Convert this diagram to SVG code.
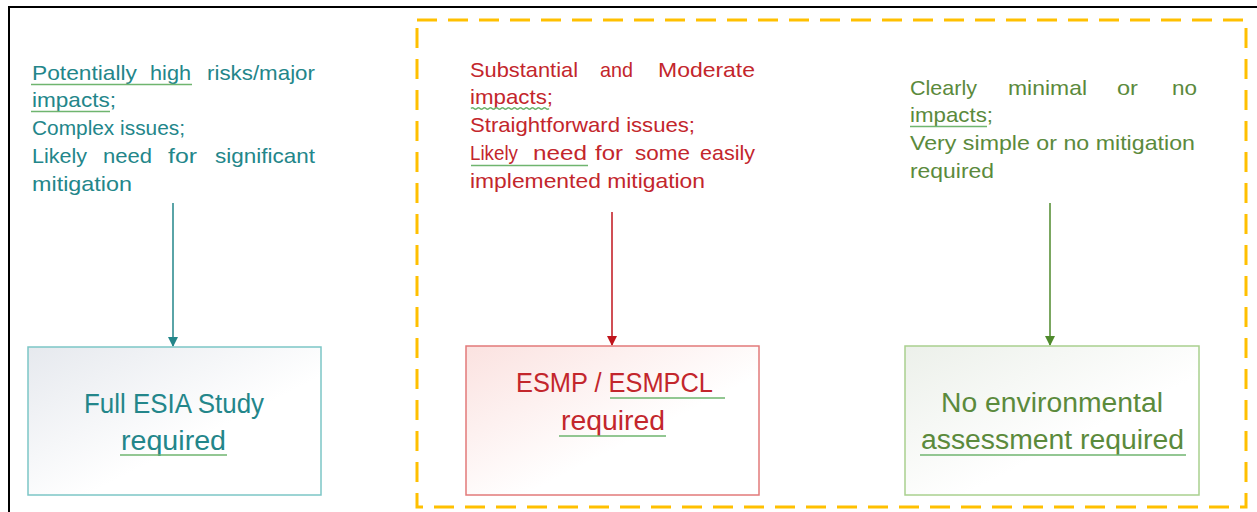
<svg xmlns="http://www.w3.org/2000/svg" width="1257" height="512" viewBox="0 0 1257 512">
<style>
text{font-family:"Liberation Sans",Arial,sans-serif}
.s{font-size:21px}
.b{font-size:27px}
.teal{fill:#23868a}
.red{fill:#c3262c}
.grn{fill:#5b8a3c}
.ul{stroke:#6fb56f;stroke-width:1.6;fill:none}
</style>
<defs>
<linearGradient id="g1" x1="0" y1="0" x2="1" y2="1"><stop offset="0" stop-color="#e6e9ee"/><stop offset="0.6" stop-color="#ffffff"/></linearGradient>
<linearGradient id="g2" x1="0" y1="0" x2="1" y2="1"><stop offset="0" stop-color="#fbe2e0"/><stop offset="0.6" stop-color="#ffffff"/></linearGradient>
<linearGradient id="g3" x1="0" y1="0" x2="1" y2="1"><stop offset="0" stop-color="#ecf0ea"/><stop offset="0.6" stop-color="#ffffff"/></linearGradient>
<marker id="aT" markerWidth="10" markerHeight="10" refX="9" refY="5" orient="auto" markerUnits="userSpaceOnUse"><path d="M0,0 L10,5 L0,10 Z" fill="#23868a"/></marker>
<marker id="aR" markerWidth="10" markerHeight="10" refX="9" refY="5" orient="auto" markerUnits="userSpaceOnUse"><path d="M0,0 L10,5 L0,10 Z" fill="#c0141c"/></marker>
<marker id="aG" markerWidth="10" markerHeight="10" refX="9" refY="5" orient="auto" markerUnits="userSpaceOnUse"><path d="M0,0 L10,5 L0,10 Z" fill="#4f8a2c"/></marker>
</defs>
<rect width="1257" height="512" fill="#ffffff"/>
<rect x="9" y="7" width="1262" height="530" fill="none" stroke="#000" stroke-width="2"/>
<rect x="417" y="20" width="829" height="487" fill="none" stroke="#ffc000" stroke-width="3" stroke-dasharray="20 11"/>

<g id="connectors">
<line x1="173" y1="203" x2="173" y2="346" stroke="#23868a" stroke-width="1.5" marker-end="url(#aT)"/>
<line x1="612" y1="212" x2="612" y2="345" stroke="#c0141c" stroke-width="1.5" marker-end="url(#aR)"/>
<line x1="1050" y1="203" x2="1050" y2="345" stroke="#4f8a2c" stroke-width="1.5" marker-end="url(#aG)"/>
</g>

<g id="criteria-high">
<text class="s teal" y="80"><tspan x="32" textLength="105" lengthAdjust="spacingAndGlyphs">Potentially</tspan><tspan x="150" textLength="41" lengthAdjust="spacingAndGlyphs">high</tspan><tspan x="207" textLength="108" lengthAdjust="spacingAndGlyphs">risks/major</tspan></text>
<text class="s teal" x="32" y="107" textLength="84" lengthAdjust="spacingAndGlyphs">impacts;</text>
<text class="s teal" x="32" y="135" textLength="153" lengthAdjust="spacingAndGlyphs">Complex issues;</text>
<text class="s teal" y="163"><tspan x="32" textLength="55" lengthAdjust="spacingAndGlyphs">Likely</tspan><tspan x="103" textLength="49" lengthAdjust="spacingAndGlyphs">need</tspan><tspan x="168" textLength="29" lengthAdjust="spacingAndGlyphs">for</tspan><tspan x="215" textLength="100" lengthAdjust="spacingAndGlyphs">significant</tspan></text>
<text class="s teal" x="32" y="191" textLength="100" lengthAdjust="spacingAndGlyphs">mitigation</text>
<path class="ul" d="M31,84.5 H192 M31,111.5 H110"/>
</g>

<g id="criteria-moderate">
<text class="s red" y="77"><tspan x="470" textLength="108" lengthAdjust="spacingAndGlyphs">Substantial</tspan><tspan x="600" textLength="33" lengthAdjust="spacingAndGlyphs">and</tspan><tspan x="658" textLength="97" lengthAdjust="spacingAndGlyphs">Moderate</tspan></text>
<text class="s red" x="470" y="104" textLength="83" lengthAdjust="spacingAndGlyphs">impacts;</text>
<text class="s red" x="470" y="132" textLength="225" lengthAdjust="spacingAndGlyphs">Straightforward issues;</text>
<text class="s red" y="160"><tspan x="470" textLength="48" lengthAdjust="spacingAndGlyphs">Likely</tspan><tspan x="533" textLength="54" lengthAdjust="spacingAndGlyphs">need</tspan><tspan x="595" textLength="28" lengthAdjust="spacingAndGlyphs">for</tspan><tspan x="635" textLength="55" lengthAdjust="spacingAndGlyphs">some</tspan><tspan x="700" textLength="55" lengthAdjust="spacingAndGlyphs">easily</tspan></text>
<text class="s red" x="470" y="188" textLength="235" lengthAdjust="spacingAndGlyphs">implemented mitigation</text>
<path class="ul" d="M471,108.5 q1.5,-1.5 3,0 t3,0 t3,0 t3,0 t3,0 t3,0 t3,0 t3,0 t3,0 t3,0 t3,0 t3,0 t3,0 t3,0 t3,0 t3,0 t3,0 t3,0 t3,0 t3,0 t3,0 t3,0 t3,0 t3,0 t3,0 t3,0 M471,165.5 H588"/>
</g>

<g id="criteria-minimal">
<text class="s grn" y="95"><tspan x="910" textLength="67" lengthAdjust="spacingAndGlyphs">Clearly</tspan><tspan x="1008" textLength="79" lengthAdjust="spacingAndGlyphs">minimal</tspan><tspan x="1117" textLength="21" lengthAdjust="spacingAndGlyphs">or</tspan><tspan x="1172" textLength="25" lengthAdjust="spacingAndGlyphs">no</tspan></text>
<text class="s grn" x="910" y="122" textLength="83" lengthAdjust="spacingAndGlyphs">impacts;</text>
<text class="s grn" x="910" y="150" textLength="285" lengthAdjust="spacingAndGlyphs">Very simple or no mitigation</text>
<text class="s grn" x="910" y="178" textLength="84" lengthAdjust="spacingAndGlyphs">required</text>
<path class="ul" d="M910,126.5 H987"/>
</g>

<g id="box-esia">
<rect x="28" y="347" width="293" height="148" fill="url(#g1)" stroke="#7cc6c6" stroke-width="1.5"/>
<text class="b teal" x="84" y="413" textLength="180" lengthAdjust="spacingAndGlyphs">Full ESIA Study</text>
<text class="b teal" x="121" y="450" textLength="105" lengthAdjust="spacingAndGlyphs">required</text>
<path class="ul" d="M120,455 H227"/>
</g>

<g id="box-esmp">
<rect x="466" y="346" width="293" height="149" fill="url(#g2)" stroke="#e27a7a" stroke-width="1.5"/>
<text class="b red" x="516" y="392" textLength="197" lengthAdjust="spacingAndGlyphs">ESMP / ESMPCL</text>
<text class="b red" x="561" y="430" textLength="104" lengthAdjust="spacingAndGlyphs">required</text>
<path class="ul" d="M610,398 H725 M559,436 H666"/>
</g>

<g id="box-none">
<rect x="905" y="346" width="294" height="149" fill="url(#g3)" stroke="#a9d08e" stroke-width="1.5"/>
<text class="b grn" x="941" y="412" textLength="222" lengthAdjust="spacingAndGlyphs">No environmental</text>
<text class="b grn" x="921" y="449" textLength="263" lengthAdjust="spacingAndGlyphs">assessment required</text>
<path class="ul" d="M920,455 H1186"/>
</g>
</svg>
